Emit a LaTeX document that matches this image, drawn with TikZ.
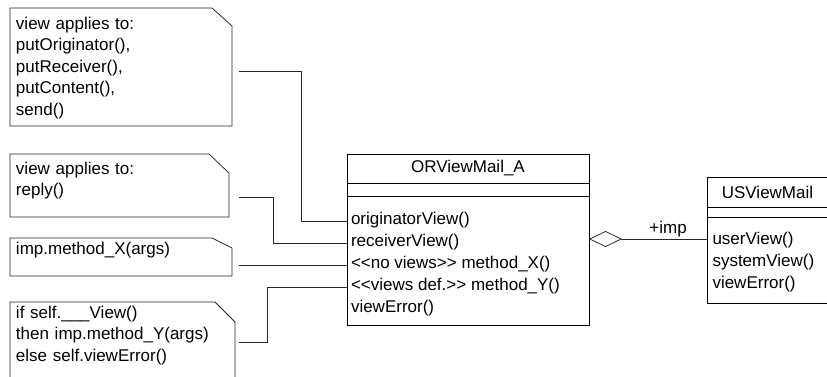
\documentclass[tikz,border=0pt]{standalone}
\usepackage{fontspec}
\setmainfont{Liberation Sans}
\usetikzlibrary{positioning}
\usetikzlibrary{calc}
\usetikzlibrary{arrows.meta}

\newcommand{\stereo}[1]{<\kern0pt<#1>\kern0pt>}

\tikzset{
    umlnote/.style={anchor=north west, inner xsep=6pt, inner ysep=0pt, outer sep=0pt, align=left, text width=#1},
    notefold/.style={draw=black!85, line width=0.75pt},
    classpart/.style={draw, line width=1pt, anchor=north west, outer sep=0pt, inner sep=0pt},
    method/.style={anchor=north west, inner xsep=4pt, inner ysep=0pt, outer sep=0pt, text height=14pt, text depth=8pt},
    link/.style={draw=black!85, line width=0.75pt},
    aggregation/.style={link, -{Diamond[open, length=33pt, width=16pt]}}
}

\begin{document}
\begin{tikzpicture}[x=1pt, y=-1pt, font=\fontsize{17}{21.5}\selectfont]
    \useasboundingbox (0,0) rectangle (827,376);
    \clip (0,0) rectangle (827,376);

    % notes
    \node[umlnote=210pt, text height=21pt, text depth=97pt] (noteA) at (10,8)
        {view applies to:\\ putOriginator(),\\ putReceiver(),\\ putContent(),\\ send()};
    \node[umlnote=207pt, text height=20pt, text depth=43pt] (noteB) at (10,154)
        {view applies to:\\ reply()};
    \node[umlnote=210pt, text height=16pt, text depth=22pt] (noteC) at (10,238)
        {imp.method\_X(args)};
    \node[umlnote=213pt, text height=16pt, text depth=64pt] (noteD) at (10,302)
        {if self.\_\_\_View()\\ then imp.method\_Y(args)\\ else self.viewError()};
    \foreach \n/\f in {noteA/18, noteB/19, noteC/10, noteD/20}
        \draw[notefold] (\n.north west) -- ([xshift=-20pt]\n.north east)
            -- ([yshift=-\f pt]\n.north east) -- (\n.south east) -- (\n.south west) -- cycle;

    % class ORViewMail_A
    \node[classpart, minimum width=242pt, minimum height=29pt] (orName) at (347,154) {ORViewMail\_A};
    \node[classpart, minimum width=242pt, minimum height=13pt, below=0pt of orName] (orAttr) {};
    \node[classpart, minimum width=242pt, minimum height=129pt, below=0pt of orAttr] (orMeth) {};
    \node[method, below right=14pt and 0pt of orMeth.north west] (mOrig) {originatorView()};
    \node[method] (mRecv) at (mOrig.south west) {receiverView()};
    \node[method] (mNoView) at (mRecv.south west) {\stereo{no views} method\_X()};
    \node[method] (mViewDef) at (mNoView.south west) {\stereo{views def.} method\_Y()};
    \node[method] (mErr) at (mViewDef.south west) {viewError()};

    % class USViewMail
    \node[classpart, minimum width=121pt, minimum height=30pt] (usName) at (707,177) {USViewMail};
    \node[classpart, minimum width=121pt, minimum height=10pt, below=0pt of usName] (usAttr) {};
    \node[classpart, minimum width=121pt, minimum height=86pt, below=0pt of usAttr] (usMeth) {};
    \node[method, inner xsep=5.5pt, below right=13pt and 0pt of usMeth.north west] (mUser) {userView()};
    \node[method, inner xsep=5.5pt] (mSystem) at (mUser.south west) {systemView()};
    \node[method, inner xsep=5.5pt] (mUsErr) at (mSystem.south west) {viewError()};

    % note links
    \coordinate (startC) at ([xshift=7pt]noteC.east);
    \draw[link] ([xshift=7pt, yshift=-63pt]noteA.north east) -| ([xshift=-46pt]mOrig.west) -- (mOrig.west);
    \draw[link] ([xshift=10pt, yshift=-43pt]noteB.north east) -| ([xshift=-74pt]mRecv.west) -- (mRecv.west);
    \draw[link] (startC |- mNoView.west) -- (mNoView.west);
    \draw[link] ([xshift=4pt, yshift=-40pt]noteD.north east) -| ([xshift=-80pt]mViewDef.west) -- (mViewDef.west);

    % aggregation
    \coordinate (impEnd) at ([yshift=-22pt]usMeth.north west);
    \draw[aggregation] (impEnd) -- (impEnd -| orMeth.east)
        node[pos=0.33, above, inner sep=2pt] (impLabel) {+imp};
\end{tikzpicture}
\end{document}
